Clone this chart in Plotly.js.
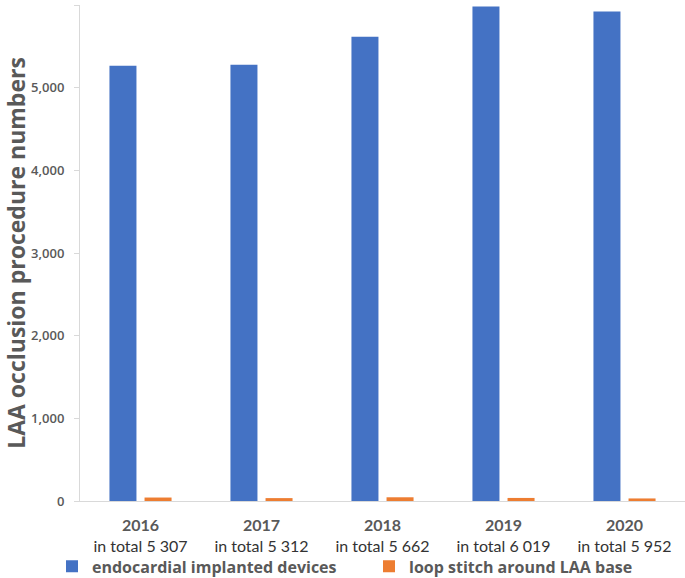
<!DOCTYPE html>
<html>
<head>
<meta charset="utf-8">
<script src="https://cdn.plot.ly/plotly-3.0.1.min.js"></script>
<style>html,body{margin:0;padding:0;background:#fff;}#chart{width:685px;height:578px;}</style>
</head>
<body>
<div id="chart"></div>
<script>
var years = ["2016", "2017", "2018", "2019", "2020"];
var totals = ["5 307", "5 312", "5 662", "6 019", "5 952"];
var endocardial = [5265, 5277, 5617, 5982, 5921];
var loopStitch = [42, 35, 45, 37, 31];
var tickLabels = years.map(function (y, i) {
  return "<b>" + y + "</b><br><span style='color:#333333'>in total " + totals[i] + "</span>";
});

var gray = "#595959";
var traces = [
  { type: "bar", name: "endocardial implanted devices", x: years, y: endocardial,
    marker: { color: "#4472C4" }, hoverinfo: "y", legend: "legend" },
  { type: "bar", name: "loop stitch around LAA base", x: years, y: loopStitch,
    marker: { color: "#ED7D31" }, hoverinfo: "y", legend: "legend2" }
];
var legendFont = { family: "Open Sans, sans-serif", size: 16, weight: 700, color: gray };
var layout = {
  width: 685, height: 578,
  margin: { l: 80, r: 0, t: 5, b: 77 },
  paper_bgcolor: "#fff", plot_bgcolor: "#fff",
  barmode: "group", bargap: 0.42, bargroupgap: 0.23,
  font: { family: "Open Sans, sans-serif", color: gray },
  xaxis: {
    type: "category", tickvals: years, ticktext: tickLabels,
    showline: true, linecolor: "#d9d9d9", linewidth: 1,
    ticks: "", showgrid: false, zeroline: false, ticklabelstandoff: 10,
    tickfont: { family: "Lato, sans-serif", size: 16, color: gray }
  },
  yaxis: {
    range: [0, 6000], dtick: 1000, tickformat: ",d",
    showline: true, linecolor: "#d9d9d9", linewidth: 1,
    ticks: "outside", ticklen: 5, tickcolor: "#d9d9d9", ticklabelstandoff: 7,
    showgrid: false, zeroline: false,
    tickfont: { family: "Open Sans, sans-serif", size: 13, weight: 600, color: gray },
    title: { text: "<b>LAA occlusion procedure numbers</b>", font: { family: "Open Sans, sans-serif", size: 23, color: gray }, standoff: 12 }
  },
  legend: {
    orientation: "h", xref: "container", x: 52 / 685, xanchor: "left",
    yref: "container", y: 0.02, yanchor: "middle", bgcolor: "rgba(0,0,0,0)",
    font: legendFont, itemwidth: 30
  },
  legend2: {
    orientation: "h", xref: "container", x: 369 / 685, xanchor: "left",
    yref: "container", y: 0.02, yanchor: "middle", bgcolor: "rgba(0,0,0,0)",
    font: legendFont, itemwidth: 30
  },
  showlegend: true
};
Plotly.newPlot("chart", traces, layout, { displayModeBar: false, staticPlot: true });
</script>
</body>
</html>
